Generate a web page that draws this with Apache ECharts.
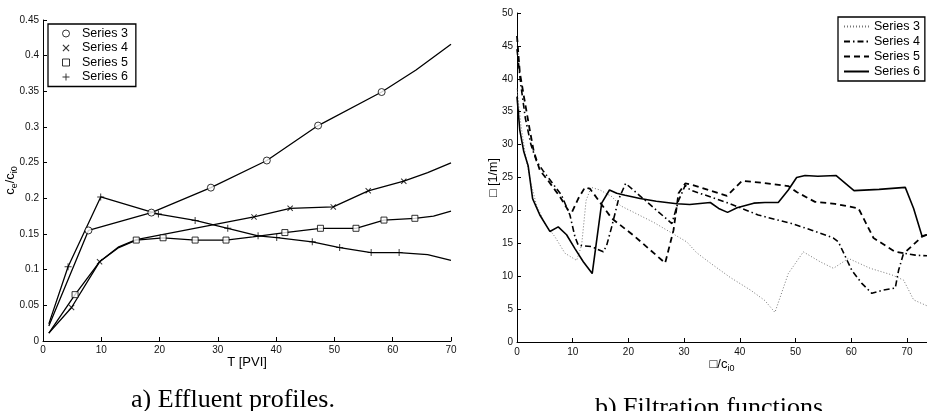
<!DOCTYPE html>
<html>
<head>
<meta charset="utf-8">
<script src="https://cdn.jsdelivr.net/npm/echarts@6/dist/echarts.min.js"></script>
<style>
  html, body { margin: 0; padding: 0; background: #fff; }
  #wrap { position: relative; width: 927px; height: 411px; overflow: hidden; }
  #left { position: absolute; left: 0; top: 0; width: 463px; height: 411px; }
  #right { position: absolute; left: 463px; top: 0; width: 464px; height: 411px; }
</style>
</head>
<body>
<div id="wrap"><div id="left"></div><div id="right"></div></div>
<script>
// ---- a) effluent profiles: curve points and marker points [T, ce/ci0]
const seriesNames = ['Series 3', 'Series 4', 'Series 5', 'Series 6']

const eff3Line = [[1, 0.021], [7.8, 0.155], [18.6, 0.18], [28.8, 0.215], [38.4, 0.253], [47.2, 0.302], [58.1, 0.349], [64, 0.38], [70, 0.416]]
const eff3Marks = [[7.8, 0.155], [18.6, 0.18], [28.8, 0.215], [38.4, 0.253], [47.2, 0.302], [58.1, 0.349]]

const eff4Line = [[1, 0.011], [4.9, 0.047], [9.7, 0.111], [13, 0.132], [16, 0.142], [26, 0.158], [36.2, 0.174], [42.4, 0.186], [49.8, 0.188], [55.8, 0.2105], [61.9, 0.224], [66, 0.236], [70, 0.2497]]
const eff4Marks = [[4.9, 0.047], [9.7, 0.111], [36.2, 0.174], [42.4, 0.186], [49.8, 0.188], [55.8, 0.2105], [61.9, 0.224]]

const eff5Line = [[1, 0.011], [5.5, 0.065], [9.7, 0.111], [13, 0.131], [16, 0.1415], [20.6, 0.1447], [26.1, 0.1415], [31.4, 0.1415], [36, 0.146], [41.5, 0.152], [47.6, 0.158], [53.7, 0.158], [58.5, 0.1695], [63.8, 0.172], [67, 0.175], [70, 0.182]]
const eff5Marks = [[5.5, 0.065], [16, 0.1415], [20.6, 0.1447], [26.1, 0.1415], [31.4, 0.1415], [41.5, 0.152], [47.6, 0.158], [53.7, 0.158], [58.5, 0.1695], [63.8, 0.172]]

const eff6Line = [[1, 0.024], [4.3, 0.104], [9.9, 0.202], [19.8, 0.178], [26.1, 0.169], [31.7, 0.158], [36.9, 0.1475], [40.1, 0.145], [46.2, 0.139], [50.9, 0.131], [56.3, 0.124], [61.1, 0.124], [66, 0.121], [70, 0.113]]
const eff6Marks = [[4.3, 0.104], [9.9, 0.202], [19.8, 0.178], [26.1, 0.169], [31.7, 0.158], [36.9, 0.1475], [40.1, 0.145], [46.2, 0.139], [50.9, 0.131], [56.3, 0.124], [61.1, 0.124]]

// ---- b) filtration functions [sigma/ci0, lambda]
const filt3 = [[0, 38.5], [0.7, 33], [1.5, 28.5], [2.4, 24.5], [3.5, 20.8], [5, 18], [6.8, 16], [8.6, 13.5], [10.7, 12.4], [11.6, 14.7], [12.4, 21.5], [13.3, 23.5], [14.9, 23.1], [17, 22.1], [18.6, 20.7], [24.5, 18.2], [30.5, 15.2], [32.2, 13.6], [34.7, 12.0], [38.3, 9.8], [41.9, 7.9], [44.5, 6.3], [46.3, 4.5], [48.7, 10.4], [51.4, 13.7], [54.4, 12.2], [56.8, 11.2], [59.5, 12.7], [63.4, 11.2], [67.3, 10.2], [69.4, 9.4], [71.2, 6.4], [73.6, 5.5]]
const filt4 = [[0, 44.5], [0.7, 39], [1.5, 34], [2.5, 30], [3.5, 27.5], [4.7, 26.0], [5.6, 25], [8.0, 22.3], [9.5, 19.3], [10.4, 16.0], [11.0, 14.7], [13.4, 14.5], [15.5, 13.7], [16.1, 14.7], [17.0, 17.5], [18.2, 21.6], [19.5, 24.1], [27.8, 18.0], [29, 21.5], [30.2, 23.8], [31.1, 23.1], [38, 21.1], [43.3, 19.3], [49.3, 18.0], [52.9, 17.0], [56.8, 15.8], [57.7, 15.2], [60.1, 10.9], [61.9, 8.9], [63.7, 7.4], [65.8, 7.9], [67.9, 8.2], [68.5, 10.9], [69.4, 13.5], [71.5, 13.2], [73.6, 13.1]]
const filt5 = [[0, 46.5], [0.5, 41], [1.2, 37.5], [2.3, 32.2], [3.0, 29], [4.1, 26.1], [5.6, 24.5], [7.7, 22.1], [9.2, 20.0], [9.9, 19.8], [11.0, 21.8], [12.2, 23.5], [13.1, 23.3], [17, 18.8], [21.2, 16.0], [26.6, 12.0], [28.1, 17.0], [29, 22.6], [30.2, 24.1], [31.4, 23.9], [37.7, 22.2], [40.4, 24.5], [44, 24.2], [48.7, 23.7], [50.2, 22.8], [53.5, 21.3], [57.1, 21.0], [61.3, 20.3], [64, 15.8], [67.9, 13.7], [69.5, 13.5], [72.7, 16.0], [73.6, 16.3]]
const filt6 = [[0, 37.3], [0.5, 32.2], [1.2, 29], [2.0, 26.8], [2.8, 21.8], [4.1, 19.3], [5.9, 16.8], [7.4, 17.5], [8.9, 16.3], [10.4, 14.2], [11.9, 12.2], [13.5, 10.4], [15.2, 21.1], [16.6, 23.1], [17.9, 22.6], [19.4, 22.3], [22.1, 21.8], [25, 21.4], [28.7, 21.0], [31, 20.9], [34.7, 21.2], [36.2, 20.3], [37.8, 19.7], [39.5, 20.4], [42.5, 21.1], [44.5, 21.2], [46.9, 21.2], [48.7, 23.1], [50.2, 25.0], [51.7, 25.3], [54, 25.2], [57.3, 25.3], [60.5, 23.0], [65, 23.2], [69.7, 23.5], [71.2, 20.3], [72.7, 16.1], [73.6, 16.3]]

const SANS = 'Liberation Sans, Arial, sans-serif'
const crossX = 'path://M0,1.2 L1.2,0 L10,8.8 L8.8,10 Z M8.8,0 L10,1.2 L1.2,10 L0,8.8 Z'
const crossPlus = 'path://M4.3,0 H5.7 V10 H4.3 Z M0,4.3 H10 V5.7 H0 Z'
const square = 'path://M0,0 H10 V10 H0 Z'

const effLines = [eff3Line, eff4Line, eff5Line, eff6Line]
const effMarks = [eff3Marks, eff4Marks, eff5Marks, eff6Marks]
const effSymbols = ['circle', crossX, square, crossPlus]
const effSizes = [7, 6, 6, 7]

const filtData = [filt3, filt4, filt5, filt6]
const filtStyles = [
  { color: '#777', width: 1, type: [1, 2] },
  { color: '#000', width: 1.6, type: [6, 3, 1.5, 3] },
  { color: '#000', width: 1.8, type: [6, 4] },
  { color: '#000', width: 1.6, type: 'solid' }
]

function axisBase() {
  return {
    type: 'value',
    nameMoveOverlap: false,
    axisLine: { show: true, lineStyle: { color: '#000', width: 1 } },
    axisTick: { show: true, inside: true, length: 4, lineStyle: { color: '#000' } },
    splitLine: { show: false },
    axisLabel: { color: '#111', fontSize: 10, fontFamily: SANS, margin: 4 }
  }
}

const subRich = {
  n: { fontSize: 13, fontFamily: SANS, color: '#000', lineHeight: 15, verticalAlign: 'top' },
  s: { fontSize: 9, fontFamily: SANS, color: '#000', lineHeight: 9, verticalAlign: 'bottom' }
}

// ---- left chart
const leftChart = echarts.init(document.getElementById('left'))
const leftSeries = []
seriesNames.forEach((name, i) => {
  leftSeries.push({
    name: name,
    type: 'scatter',
    symbol: effSymbols[i],
    symbolSize: effSizes[i],
    z: 3,
    itemStyle: i === 0 || i === 2
      ? { color: '#fff', borderColor: '#000', borderWidth: 1 }
      : { color: '#000' },
    data: effMarks[i]
  })
})
seriesNames.forEach((name, i) => {
  leftSeries.push({
    name: name,
    type: 'line',
    symbol: 'none',
    smooth: false,
    z: 2,
    lineStyle: { color: '#000', width: 1.3 },
    data: effLines[i]
  })
})

leftChart.setOption({
  animation: false,
  grid: { left: 43, right: 12, top: 20, bottom: 70, outerBoundsMode: 'none', containLabel: false },
  legend: {
    orient: 'vertical',
    left: 48,
    top: 24,
    padding: [3, 8, 3, 14],
    borderColor: '#000',
    borderWidth: 1.3,
    backgroundColor: '#fff',
    itemWidth: 22,
    itemHeight: 7,
    itemGap: 1.5,
    itemStyle: { borderWidth: 1 },
    textStyle: { fontSize: 12.5, fontFamily: SANS, color: '#000', lineHeight: 13 },
    data: seriesNames.map((name, i) => ({ name: name, icon: effSymbols[i] }))
  },
  xAxis: Object.assign(axisBase(), {
    min: 0, max: 70, interval: 10,
    name: 'T [PVI]',
    nameLocation: 'middle',
    nameGap: 15,
    nameTextStyle: { fontSize: 13, fontFamily: SANS, color: '#000', verticalAlign: 'top' }
  }),
  yAxis: Object.assign(axisBase(), {
    min: 0, max: 0.45, interval: 0.05,
    name: '{n|c}{s|e}{n|/c}{s|i0}',
    nameLocation: 'middle',
    nameRotate: 90,
    nameGap: 24,
    nameTextStyle: { rich: subRich }
  }),
  graphic: [{
    type: 'text',
    x: 233,
    y: 387,
    style: {
      text: 'a) Effluent profiles.',
      font: '26px "Liberation Serif", "Times New Roman", serif',
      fill: '#000',
      align: 'center',
      verticalAlign: 'top'
    }
  }],
  series: leftSeries
})

// ---- right chart
const rightChart = echarts.init(document.getElementById('right'))
rightChart.setOption({
  animation: false,
  grid: { left: 54, right: 0, top: 13, bottom: 69, outerBoundsMode: 'none', containLabel: false },
  legend: {
    orient: 'vertical',
    left: 375,
    top: 17,
    padding: [3, 5, 3, 5],
    borderColor: '#000',
    borderWidth: 1.3,
    backgroundColor: '#fff',
    itemWidth: 25,
    itemHeight: 10,
    itemGap: 2,
    itemStyle: { opacity: 0 },
    textStyle: { fontSize: 12.5, fontFamily: SANS, color: '#000', lineHeight: 13 },
    data: seriesNames
  },
  xAxis: Object.assign(axisBase(), {
    min: 0, max: 73.6, interval: 10,
    axisLabel: { color: '#111', fontSize: 10, fontFamily: SANS, margin: 5, showMaxLabel: false },
    name: '{n|\u25A1/c}{s|i0}',
    nameLocation: 'middle',
    nameGap: 16,
    nameTextStyle: { rich: subRich }
  }),
  yAxis: Object.assign(axisBase(), {
    min: 0, max: 50, interval: 5,
    name: '\u25A1 [1/m]',
    nameLocation: 'middle',
    nameRotate: 90,
    nameGap: 17,
    nameTextStyle: { fontSize: 12.5, fontFamily: SANS, color: '#000' }
  }),
  graphic: [{
    type: 'text',
    x: 246,
    y: 395,
    style: {
      text: 'b) Filtration functions',
      font: '26px "Liberation Serif", "Times New Roman", serif',
      fill: '#000',
      align: 'center',
      verticalAlign: 'top'
    }
  }],
  series: seriesNames.map((name, i) => ({
    name: name,
    type: 'line',
    symbol: 'none',
    smooth: false,
    itemStyle: { color: filtStyles[i].color },
    lineStyle: filtStyles[i],
    data: filtData[i]
  }))
})

window.addEventListener('resize', () => {
  leftChart.resize()
  rightChart.resize()
})
</script>
</body>
</html>
